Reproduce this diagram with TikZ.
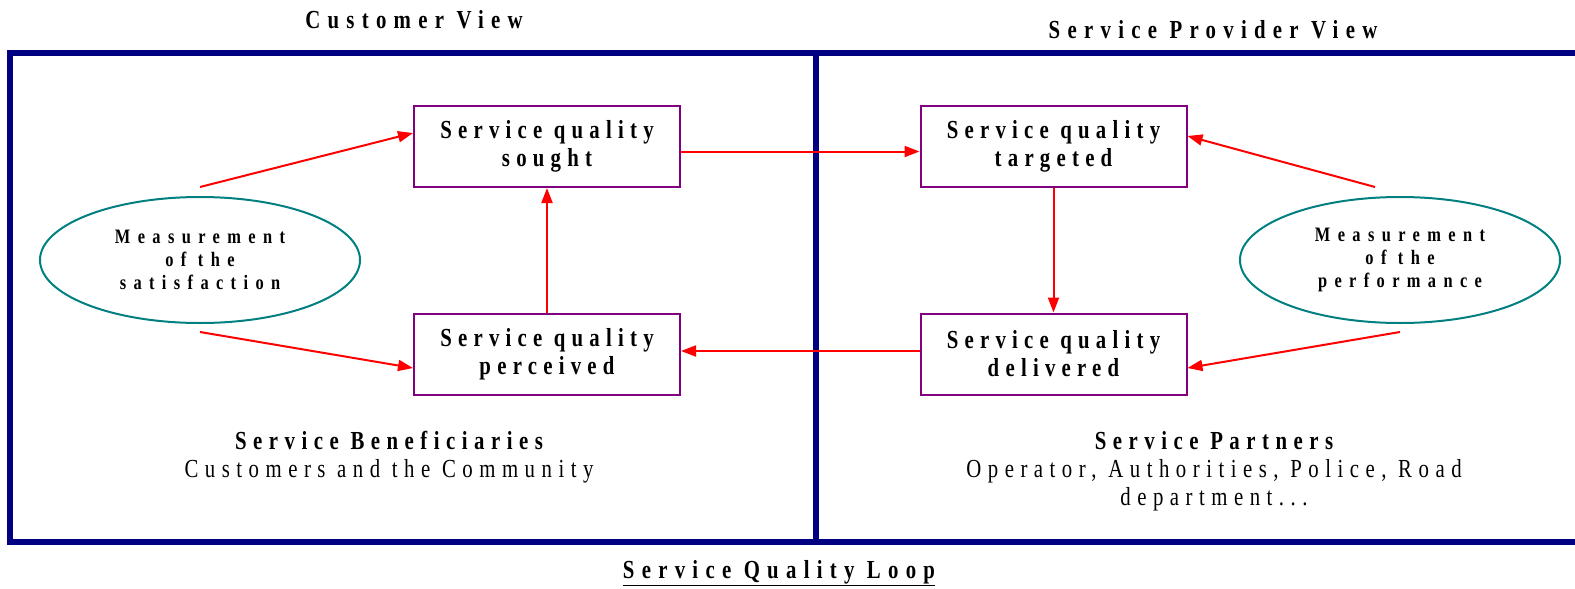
\documentclass[tikz,border=0pt]{standalone}
\usepackage{fontspec}
\setmainfont{Liberation Serif}
\newfontfamily\titlefont[LetterSpace=28,FakeStretch=0.8]{Liberation Serif}
\newfontfamily\boxfont[LetterSpace=24,FakeStretch=0.8]{Liberation Serif}
\newfontfamily\ellfont[LetterSpace=36,FakeStretch=0.8]{Liberation Serif}
\newfontfamily\notefont[LetterSpace=25,FakeStretch=0.8]{Liberation Serif}
\usetikzlibrary{arrows.meta,calc,shapes.geometric}
\definecolor{framenavy}{RGB}{0,0,128}
\definecolor{boxpurple}{RGB}{128,0,128}
\definecolor{elltea}{RGB}{0,128,128}
\tikzset{
  qbox/.style={draw=boxpurple, line width=2pt, minimum width=266pt, minimum height=81pt,
    inner sep=0pt, align=center, font=\boxfont\bfseries\fontsize{26}{28}\selectfont},
  measure/.style={ellipse, draw=elltea, line width=2pt, minimum width=320pt, minimum height=126pt,
    inner sep=0pt, align=center, font=\ellfont\bfseries\fontsize{20.5}{23}\selectfont},
  flow/.style={red, line width=2pt, -{Triangle[length=15pt,width=11pt]}},
  heading/.style={inner sep=0pt, font=\titlefont\bfseries\fontsize{26}{28}\selectfont},
  note/.style={inner sep=0pt, align=center, font=\notefont\fontsize{26}{28}\selectfont},
  frame/.style={draw=framenavy, line width=6pt}
}
\begin{document}
\begin{tikzpicture}[x=1pt,y=-1pt]
\useasboundingbox (0,0) rectangle (1575,589);
\clip (0,0) rectangle (1575,589);

% the two view panels
\draw[frame] (10,53) rectangle (1600,542);
\draw[frame] (816,53) -- (816,542);

% panel headings
\node[heading] (custview) at (414,20) {Customer View};
\node[heading] (provview) at (1213,30) {Service Provider View};

% quality boxes
\node[qbox] (sought)    at (547,146.5)  {Service quality\\sought};
\node[qbox] (targeted)  at (1053.5,146.5) {Service quality\\targeted};
\node[qbox] (perceived) at (547,354)    {Service quality\\perceived};
\node[qbox] (delivered) at (1053.5,354) {Service quality\\delivered};

% measurement ellipses
\node[measure] (satis) at (200,260) {Measurement\\of the\\satisfaction};
\node[measure] (perf)  at (1400,260) {Measurement\\of the\\performance};

% free ends of the measurement arrows
\coordinate (satA) at (200,187);
\coordinate (satB) at (200,332);
\coordinate (perfA) at (1375,187);
\coordinate (perfB) at (1400,332);

% the loop
\draw[flow] (satA) -- ($(sought.west)+(0,-13.5)$);
\draw[flow] (satB) -- ($(perceived.west)+(0,14)$);
\draw[flow] (perceived.north) -- (sought.south);
\draw[flow] ($(sought.east)+(0,5)$) -- ($(targeted.west)+(0,5)$);
\draw[flow] (targeted.south) -- (delivered.north);
\draw[flow] ($(delivered.west)+(0,-3)$) -- ($(perceived.east)+(0,-3)$);
\draw[flow] (perfA) -- ($(targeted.east)+(0,-10.5)$);
\draw[flow] (perfB) -- ($(delivered.east)+(0,14)$);

% panel captions
\node[note] (benef) at (389,457) {{\bfseries Service Beneficiaries}\\Customers and the Community};
\node[note] (partn) at (1214,471) {{\bfseries Service Partners}\\Operator, Authorities, Police, Road\\department...};

% figure caption
\node[heading] (loop) at (779,573) {\underline{Service Quality Loop}};
\end{tikzpicture}
\end{document}
